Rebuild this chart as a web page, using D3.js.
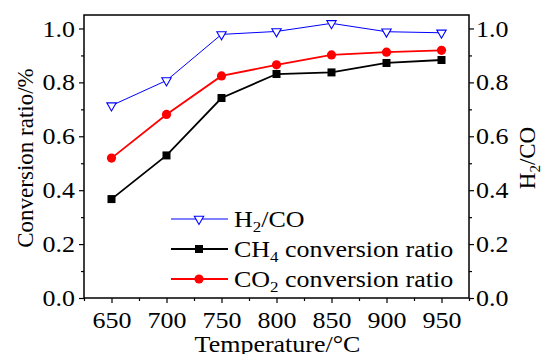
<!DOCTYPE html>
<html lang="en">
<head>
    <meta charset="UTF-8">
    <title>Conversion vs temperature</title>
    <script src="https://d3js.org/d3.v7.min.js"></script>
    <style>
        body { margin: 0; background: #fff; }
        svg text { font-family: "Liberation Serif", "Times New Roman", Times, serif !important; fill: #000; }
    </style>
</head>
<body>
<script>
    var temps = [650, 700, 750, 800, 850, 900, 950];
    var h2co = [0.714, 0.807, 0.978, 0.989, 1.019, 0.988, 0.984];
    var ch4 = [0.367, 0.529, 0.742, 0.831, 0.837, 0.872, 0.883];
    var co2 = [0.519, 0.681, 0.824, 0.865, 0.902, 0.912, 0.919];
    var yTicks = [0, 0.2, 0.4, 0.6, 0.8, 1.0];

    var W = 542, H = 354;
    var box = {left: 84, top: 15, right: 469, bottom: 298};
    var sx = 1.13; // horizontal stretch of the original's text
    var fs = 23;

    var svg = d3.select("body").append("svg")
        .attr("width", W).attr("height", H)
        .attr("font-family", "Liberation Serif");

    var x = d3.scaleLinear().domain([625, 975]).range([box.left, box.right]);
    var y = d3.scaleLinear().domain([0, 1.05]).range([box.bottom, box.top]);

    // minor ticks
    var xMinor = d3.range(625, 976, 50);
    var yMinor = d3.range(0.1, 1.05, 0.2);

    svg.append("g")
        .attr("transform", "translate(0," + box.bottom + ")")
        .call(d3.axisBottom(x).tickValues(xMinor).tickSize(3).tickFormat(""))
        .call(g => g.select(".domain").remove());
    svg.append("g")
        .attr("transform", "translate(" + box.left + ",0)")
        .call(d3.axisLeft(y).tickValues(yMinor).tickSize(3).tickFormat(""))
        .call(g => g.select(".domain").remove());
    svg.append("g")
        .attr("transform", "translate(" + box.right + ",0)")
        .call(d3.axisRight(y).tickValues(yMinor).tickSize(3).tickFormat(""))
        .call(g => g.select(".domain").remove());

    // major axes
    var xAxis = svg.append("g")
        .attr("transform", "translate(0," + box.bottom + ")")
        .call(d3.axisBottom(x).tickValues(temps).tickSize(5).tickFormat(d3.format("d")));
    xAxis.select(".domain").remove();
    xAxis.selectAll("text").attr("font-size", fs).attr("font-family", "Liberation Serif")
        .attr("y", 0).attr("dy", 0).attr("transform", "translate(0,30) scale(" + sx + ",1)");

    var yAxisL = svg.append("g")
        .attr("transform", "translate(" + box.left + ",0)")
        .call(d3.axisLeft(y).tickValues(yTicks).tickSize(5).tickFormat(d3.format(".1f")));
    yAxisL.select(".domain").remove();
    yAxisL.selectAll("text").attr("font-size", fs).attr("font-family", "Liberation Serif")
        .attr("x", 0).attr("dy", "0.33em").attr("transform", "translate(-9,0) scale(" + sx + ",1)");

    var yAxisR = svg.append("g")
        .attr("transform", "translate(" + box.right + ",0)")
        .call(d3.axisRight(y).tickValues(yTicks).tickSize(5).tickFormat(d3.format(".1f")));
    yAxisR.select(".domain").remove();
    yAxisR.selectAll("text").attr("font-size", fs).attr("font-family", "Liberation Serif")
        .attr("x", 0).attr("dy", "0.33em").attr("transform", "translate(7,0) scale(" + sx + ",1)");

    svg.selectAll(".tick line").attr("stroke", "#000").attr("stroke-width", 1.2);

    svg.append("rect")
        .attr("x", box.left).attr("y", box.top)
        .attr("width", box.right - box.left).attr("height", box.bottom - box.top)
        .attr("fill", "none").attr("stroke", "#000").attr("stroke-width", 1.5);

    // axis titles
    svg.append("text")
        .attr("transform", "translate(" + ((box.left + box.right) / 2 + 1) + ",352) scale(" + sx + ",1)")
        .attr("text-anchor", "middle").attr("font-size", fs)
        .text("Temperature/°C");

    svg.append("text")
        .attr("transform", "translate(33,158) rotate(-90)")
        .attr("text-anchor", "middle").attr("font-size", fs)
        .text("Conversion ratio/%");

    var rt = svg.append("text")
        .attr("transform", "translate(535,158) rotate(-90)")
        .attr("text-anchor", "middle").attr("font-size", fs);
    rt.append("tspan").text("H");
    rt.append("tspan").attr("font-size", 15).attr("dy", 5).text("2");
    rt.append("tspan").attr("dy", -5).text("/CO");

    // series
    var triangle = d3.symbol().type(d3.symbolTriangle).size(38);
    var series = [
        {key: "h2co", vals: h2co, color: "#0000ff", width: 1, marker: "tri"},
        {key: "co2", vals: co2, color: "#ff0000", width: 1.8, marker: "circle"},
        {key: "ch4", vals: ch4, color: "#000000", width: 1.8, marker: "square"}
    ];

    var line = d3.line().x(d => x(d[0])).y(d => y(d[1]));

    function drawMarker(g, m, color) {
        if (m === "tri") {
            g.append("path").attr("d", triangle()).attr("transform", "rotate(180)")
                .attr("fill", "#fff").attr("stroke", color).attr("stroke-width", 1.1);
        } else if (m === "circle") {
            g.append("circle").attr("r", 4.6).attr("fill", color);
        } else {
            g.append("rect").attr("x", -4).attr("y", -4).attr("width", 8).attr("height", 8).attr("fill", color);
        }
    }

    series.forEach(function(s) {
        var pts = temps.map((t, i) => [t, s.vals[i]]);
        svg.append("path").datum(pts)
            .attr("d", line).attr("fill", "none")
            .attr("stroke", s.color).attr("stroke-width", s.width);
        pts.forEach(function(p) {
            var g = svg.append("g").attr("transform", "translate(" + x(p[0]) + "," + y(p[1]) + ")");
            drawMarker(g, s.marker, s.color);
        });
    });

    // legend
    var legendRows = [
        {marker: "tri", color: "#0000ff", width: 1, main: "H", sub: "2", rest: "/CO"},
        {marker: "square", color: "#000000", width: 1.8, main: "CH", sub: "4", rest: " conversion ratio"},
        {marker: "circle", color: "#ff0000", width: 1.8, main: "CO", sub: "2", rest: " conversion ratio"}
    ];
    legendRows.forEach(function(r, i) {
        var ly = 219 + i * 30;
        svg.append("line").attr("x1", 171).attr("x2", 228).attr("y1", ly).attr("y2", ly)
            .attr("stroke", r.color).attr("stroke-width", r.width);
        var g = svg.append("g").attr("transform", "translate(199," + ly + ")");
        drawMarker(g, r.marker, r.color);
        var t = svg.append("text")
            .attr("transform", "translate(234," + (ly + 8) + ") scale(" + sx + ",1)")
            .attr("font-size", fs);
        t.append("tspan").text(r.main);
        t.append("tspan").attr("font-size", 15).attr("dy", 5).text(r.sub);
        t.append("tspan").attr("dy", -5).text(r.rest);
    });
</script>
</body>
</html>
